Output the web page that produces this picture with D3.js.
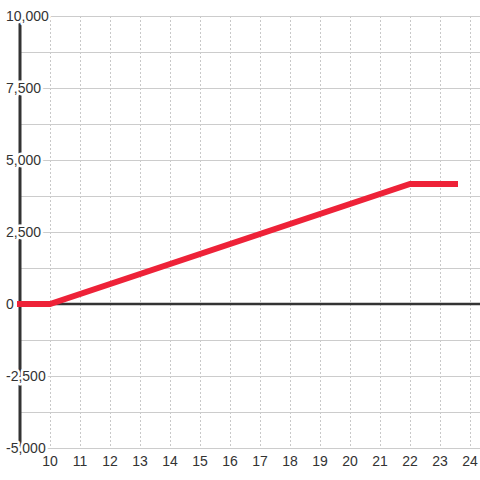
<!DOCTYPE html>
<html><head><meta charset="utf-8">
<script src="https://cdn.jsdelivr.net/npm/d3@7"></script>
<style>
html,body{margin:0;padding:0;background:#fff;}
svg{display:block;font-family:"Liberation Sans",Arial,sans-serif;}
</style></head>
<body>
<script>
const xTicks = [10,11,12,13,14,15,16,17,18,19,20,21,22,23,24];
const yMajorTicks = [-5000,-2500,0,2500,5000,7500,10000];
const yMinorTicks = [-3750,-1250,1250,3750,6250,8750];
const seriesX = [8.9, 10, 22, 23.6];
const seriesY = [0, 0, 4167, 4167];

const W = 480, H = 480;
const x = d3.scaleLinear().domain([9, 24.3333]).range([20, 480]);
const y = d3.scaleLinear().domain([-5000, 10000]).range([448, 16]);

const svg = d3.select("body").append("svg").attr("width", W).attr("height", H);

// vertical dotted grid
svg.append("g").selectAll("line").data(xTicks).join("line")
  .attr("x1", d => x(d)).attr("x2", d => x(d))
  .attr("y1", y(10000)).attr("y2", y(-5000))
  .attr("stroke", "#c8c8c8").attr("stroke-width", 1)
  .attr("stroke-dasharray", "2,2")
  .attr("shape-rendering", "crispEdges");

// horizontal grid
svg.append("g").selectAll("line").data(yMajorTicks.concat(yMinorTicks)).join("line")
  .attr("x1", 20).attr("x2", 480)
  .attr("y1", d => y(d)).attr("y2", d => y(d))
  .attr("stroke", "#cccccc").attr("stroke-width", 1)
  .attr("shape-rendering", "crispEdges");

// y axis line
svg.append("line").attr("x1", 20).attr("x2", 20)
  .attr("y1", y(10000)).attr("y2", y(-5000))
  .attr("stroke", "#333").attr("stroke-width", 3);

// zero line
svg.append("line").attr("x1", 20).attr("x2", 480)
  .attr("y1", y(0)).attr("y2", y(0))
  .attr("stroke", "#333").attr("stroke-width", 2.5);

// series
const line = d3.line().x((d, i) => x(seriesX[i])).y((d, i) => y(seriesY[i]));
svg.append("path").datum(seriesY).attr("d", line)
  .attr("fill", "none").attr("stroke", "#ee2238").attr("stroke-width", 6)
  .attr("stroke-linejoin", "miter").attr("stroke-linecap", "butt");

// y labels with halo
const fmt = v => d3.format(",")(v).replace("\u2212", "-");
svg.append("g").selectAll("text").data(yMajorTicks).join("text")
  .attr("x", 6).attr("y", d => y(d)).attr("dy", "0.35em")
  .attr("text-anchor", "start")
  .attr("font-size", 14).attr("fill", "#333")
  .attr("stroke", "#fff").attr("stroke-width", 5).attr("stroke-linejoin", "round")
  .attr("paint-order", "stroke")
  .text(d => fmt(d));

// x labels
svg.append("g").selectAll("text").data(xTicks).join("text")
  .attr("x", d => x(d)).attr("y", 466)
  .attr("text-anchor", "middle")
  .attr("font-size", 14).attr("fill", "#333")
  .text(d => d);
</script>
</body></html>
